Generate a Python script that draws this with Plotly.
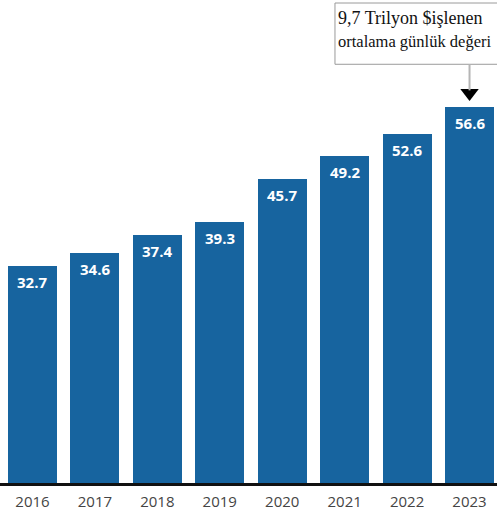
import plotly.graph_objects as go

# Average daily value processed per year (trillion $)
years = ["2016", "2017", "2018", "2019", "2020", "2021", "2022", "2023"]
values = [32.7, 34.6, 37.4, 39.3, 45.7, 49.2, 52.6, 56.6]

callout_lines = ["9,7 Trilyon $işlenen", "ortalama günlük değeri"]
callout_sizes = [18, 16.5]

BAR_COLOR = "#17649f"

fig = go.Figure()
fig.add_trace(go.Bar(
    x=years,
    y=values,
    marker=dict(color=BAR_COLOR, line=dict(width=0)),
    width=0.785,
    hoverinfo="skip",
))

# value labels just inside the top of each bar (category index positions)
for i, v in enumerate(values):
    fig.add_annotation(
        x=i, y=v, xref="x", yref="y", text=f"{v:.1f}", showarrow=False,
        yanchor="middle", yshift=-16,
        font=dict(family="Open Sans", size=15, color="white", weight=700),
    )

# callout box with text
fig.add_shape(
    type="rect", xref="paper", yref="paper",
    x0=0.674, x1=1.05, y0=1 - 64 / 481, y1=1 - 3 / 481,
    line=dict(color="#9a9a9a", width=1), fillcolor="white", layer="above",
)
for i, (line, size) in enumerate(zip(callout_lines, callout_sizes)):
    fig.add_annotation(
        xref="paper", yref="paper", x=0.676, y=1 - (18 + 23 * i) / 481,
        text=line, showarrow=False, xanchor="left", yanchor="middle",
        font=dict(family="Liberation Serif", size=size, color="#111"),
    )

# connector line from the callout to the last bar, ending in a black arrowhead
last_idx = len(years) - 1
fig.add_shape(
    type="line", xref="x", yref="paper",
    x0=last_idx, x1=last_idx, y0=1 - 64 / 481, y1=1 - 90 / 481,
    line=dict(color="#b5b5b5", width=2),
)
fig.add_trace(go.Scatter(
    x=[years[-1]], y=[values[-1] + 2.1], mode="markers",
    marker=dict(symbol="triangle-down", size=16, color="black"),
    hoverinfo="skip",
))

fig.update_layout(
    width=497, height=518,
    margin=dict(l=0, r=0, t=0, b=35),
    paper_bgcolor="white", plot_bgcolor="white",
    showlegend=False,
    bargap=0,
    xaxis=dict(
        type="category",
        range=[-0.52, 7.44],
        showgrid=False, zeroline=False,
        showline=True, linecolor="#111", linewidth=2.5,
        ticks="outside", ticklen=3, tickcolor="rgba(0,0,0,0)",
        tickfont=dict(family="Open Sans", size=15, color="#444"),
    ),
    yaxis=dict(
        range=[0, 72.7], visible=False, showgrid=False, zeroline=False,
    ),
)

fig.write_html("out.html")
